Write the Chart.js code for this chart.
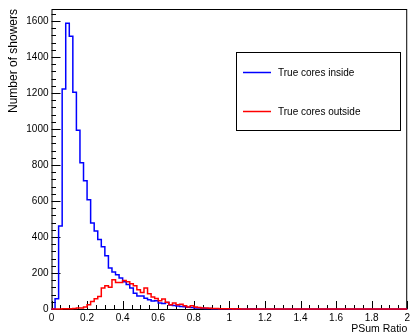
<!DOCTYPE html>
<html>
<head>
<meta charset="utf-8">
<script src="https://cdn.jsdelivr.net/npm/chart.js@4.4.1/dist/chart.umd.min.js"></script>
<style>
  html, body { margin: 0; padding: 0; background: #fff; }
  #wrap { position: relative; width: 413px; height: 336px; }
</style>
</head>
<body>
<div id="wrap"><canvas id="hist"></canvas></div>
<script>
// histogram: 100 bins of width 0.02 between 0 and 2
const binWidth = 0.02;

const insideCounts = [
  0, 57, 461, 1222, 1588, 1516, 1204, 993, 812, 713,
  607, 478, 434, 386, 346, 296, 228, 206, 191, 172,
  152, 136, 116, 88, 72, 72, 60, 52, 44, 46,
  33, 30, 36, 22, 20, 17, 14, 12, 10, 8,
  6, 5, 4, 3, 3, 2, 2, 1, 1, 1,
  0, 1, 0, 0, 0, 0, 1, 0, 0, 0,
  0, 0, 0, 0, 0, 0, 0, 0, 0, 0,
  0, 0, 0, 0, 0, 0, 0, 0, 0, 0,
  0, 0, 0, 0, 0, 0, 0, 0, 0, 0,
  0, 0, 0, 0, 0, 0, 0, 0, 0, 0
];

const outsideCounts = [
  0, 0, 0, 1, 1, 2, 3, 5, 6, 11,
  24, 42, 57, 70, 116, 129, 121, 162, 147, 147,
  158, 151, 140, 129, 107, 92, 116, 85, 66, 59,
  46, 55, 37, 24, 33, 24, 26, 18, 11, 18,
  11, 8, 6, 5, 4, 3, 3, 2, 2, 1,
  1, 0, 1, 0, 0, 0, 0, 0, 0, 0,
  0, 0, 0, 0, 0, 0, 0, 0, 0, 0,
  0, 0, 0, 0, 0, 0, 0, 0, 0, 0,
  0, 0, 0, 0, 0, 0, 0, 0, 0, 0,
  0, 0, 0, 0, 0, 0, 0, 0, 0, 0
];

const seriesLabels = ['True cores inside', 'True cores outside'];
const xTickValues = [0, 0.2, 0.4, 0.6, 0.8, 1, 1.2, 1.4, 1.6, 1.8, 2];
const xTickLabels = ['0', '0.2', '0.4', '0.6', '0.8', '1', '1.2', '1.4', '1.6', '1.8', '2'];
const yTickValues = [0, 200, 400, 600, 800, 1000, 1200, 1400, 1600];
const yTickLabels = ['0', '200', '400', '600', '800', '1000', '1200', '1400', '1600'];
const yMax = 1667;

const FONT = "'Liberation Sans', Arial, Helvetica, sans-serif";

// points at the low edge of every bin, plus the upper edge of the last one
function toSteps(counts) {
  const pts = counts.map((c, i) => ({ x: i * binWidth, y: c }));
  pts.push({ x: counts.length * binWidth, y: counts[counts.length - 1] });
  return pts;
}

// ROOT-like frame with ticks pointing inside
const framePlugin = {
  id: 'frame',
  beforeDatasetsDraw(chart) {
    const { ctx, chartArea: a, scales: { x, y } } = chart;
    ctx.save();
    ctx.strokeStyle = '#000';
    ctx.lineWidth = 1;
    ctx.strokeRect(a.left + 0.5, a.top + 0.5, a.right - a.left - 1, a.bottom - a.top);
    ctx.beginPath();
    for (let v = 0; v <= 2.0001; v += 0.05) {
      const px = Math.round(x.getPixelForValue(v)) + 0.5;
      const major = Math.abs(v / 0.2 - Math.round(v / 0.2)) < 1e-6;
      ctx.moveTo(px, a.bottom);
      ctx.lineTo(px, a.bottom - (major ? 8 : 4));
    }
    for (let v = 0; v <= yMax; v += 40) {
      const py = Math.round(y.getPixelForValue(v)) + 0.5;
      const major = v % 200 === 0;
      ctx.moveTo(a.left, py);
      ctx.lineTo(a.left + (major ? 9 : 4.5), py);
    }
    ctx.stroke();
    ctx.restore();
  }
};

const legendBoxPlugin = {
  id: 'legendBox',
  afterDraw(chart) {
    const { ctx } = chart;
    const box = { x: 236.5, y: 52.5, w: 164, h: 78 };
    const rows = [72.5, 111.5];
    ctx.save();
    ctx.fillStyle = '#fff';
    ctx.fillRect(box.x, box.y, box.w, box.h);
    ctx.strokeStyle = '#000';
    ctx.lineWidth = 1;
    ctx.strokeRect(box.x, box.y, box.w, box.h);
    ctx.font = '10px ' + FONT;
    ctx.textBaseline = 'middle';
    ctx.textAlign = 'left';
    chart.data.datasets.forEach((ds, i) => {
      ctx.strokeStyle = ds.borderColor;
      ctx.lineWidth = 1.5;
      ctx.beginPath();
      ctx.moveTo(243, rows[i]);
      ctx.lineTo(271, rows[i]);
      ctx.stroke();
      ctx.fillStyle = '#000';
      ctx.fillText(ds.label, 278, rows[i] + 0.5);
    });
    ctx.restore();
  }
};

new Chart(document.getElementById('hist').getContext('2d'), {
  type: 'line',
  data: {
    datasets: [
      {
        label: seriesLabels[0],
        data: toSteps(insideCounts),
        borderColor: '#0000ff',
        borderWidth: 1.5,
        stepped: true,
        pointRadius: 0,
        fill: false,
        clip: false,
        order: 1
      },
      {
        label: seriesLabels[1],
        data: toSteps(outsideCounts),
        borderColor: '#ff0000',
        borderWidth: 1.5,
        stepped: true,
        pointRadius: 0,
        fill: false,
        clip: false,
        order: 0
      }
    ]
  },
  options: {
    responsive: true,
    maintainAspectRatio: false,
    animation: false,
    layout: { padding: { top: 7, right: 3, left: 0, bottom: 0 } },
    plugins: { legend: { display: false }, tooltip: { enabled: false } },
    scales: {
      x: {
        type: 'linear',
        min: 0,
        max: 2,
        afterBuildTicks: s => { s.ticks = xTickValues.map(v => ({ value: v })); },
        afterFit: s => { s.height = 27; },
        grid: { display: false, drawTicks: false },
        border: { display: false },
        ticks: {
          padding: 3,
          maxRotation: 0,
          autoSkip: false,
          color: '#000',
          font: { family: FONT, size: 10 },
          callback: (v, i) => xTickLabels[i]
        },
        title: {
          display: true,
          text: 'PSum Ratio',
          align: 'end',
          color: '#000',
          font: { family: FONT, size: 10.5 },
          padding: { top: 0, bottom: 1 }
        }
      },
      y: {
        min: 0,
        max: yMax,
        afterBuildTicks: s => { s.ticks = yTickValues.map(v => ({ value: v })); },
        afterFit: s => { s.width = 51.5; },
        grid: { display: false, drawTicks: false },
        border: { display: false },
        ticks: {
          padding: 3,
          color: '#000',
          font: { family: FONT, size: 10 },
          callback: (v, i) => yTickLabels[i]
        },
        title: {
          display: true,
          text: 'Number of showers',
          align: 'end',
          color: '#000',
          font: { family: FONT, size: 12 },
          padding: { top: 6, bottom: 0 }
        }
      }
    }
  },
  plugins: [framePlugin, legendBoxPlugin]
});
</script>
</body>
</html>
